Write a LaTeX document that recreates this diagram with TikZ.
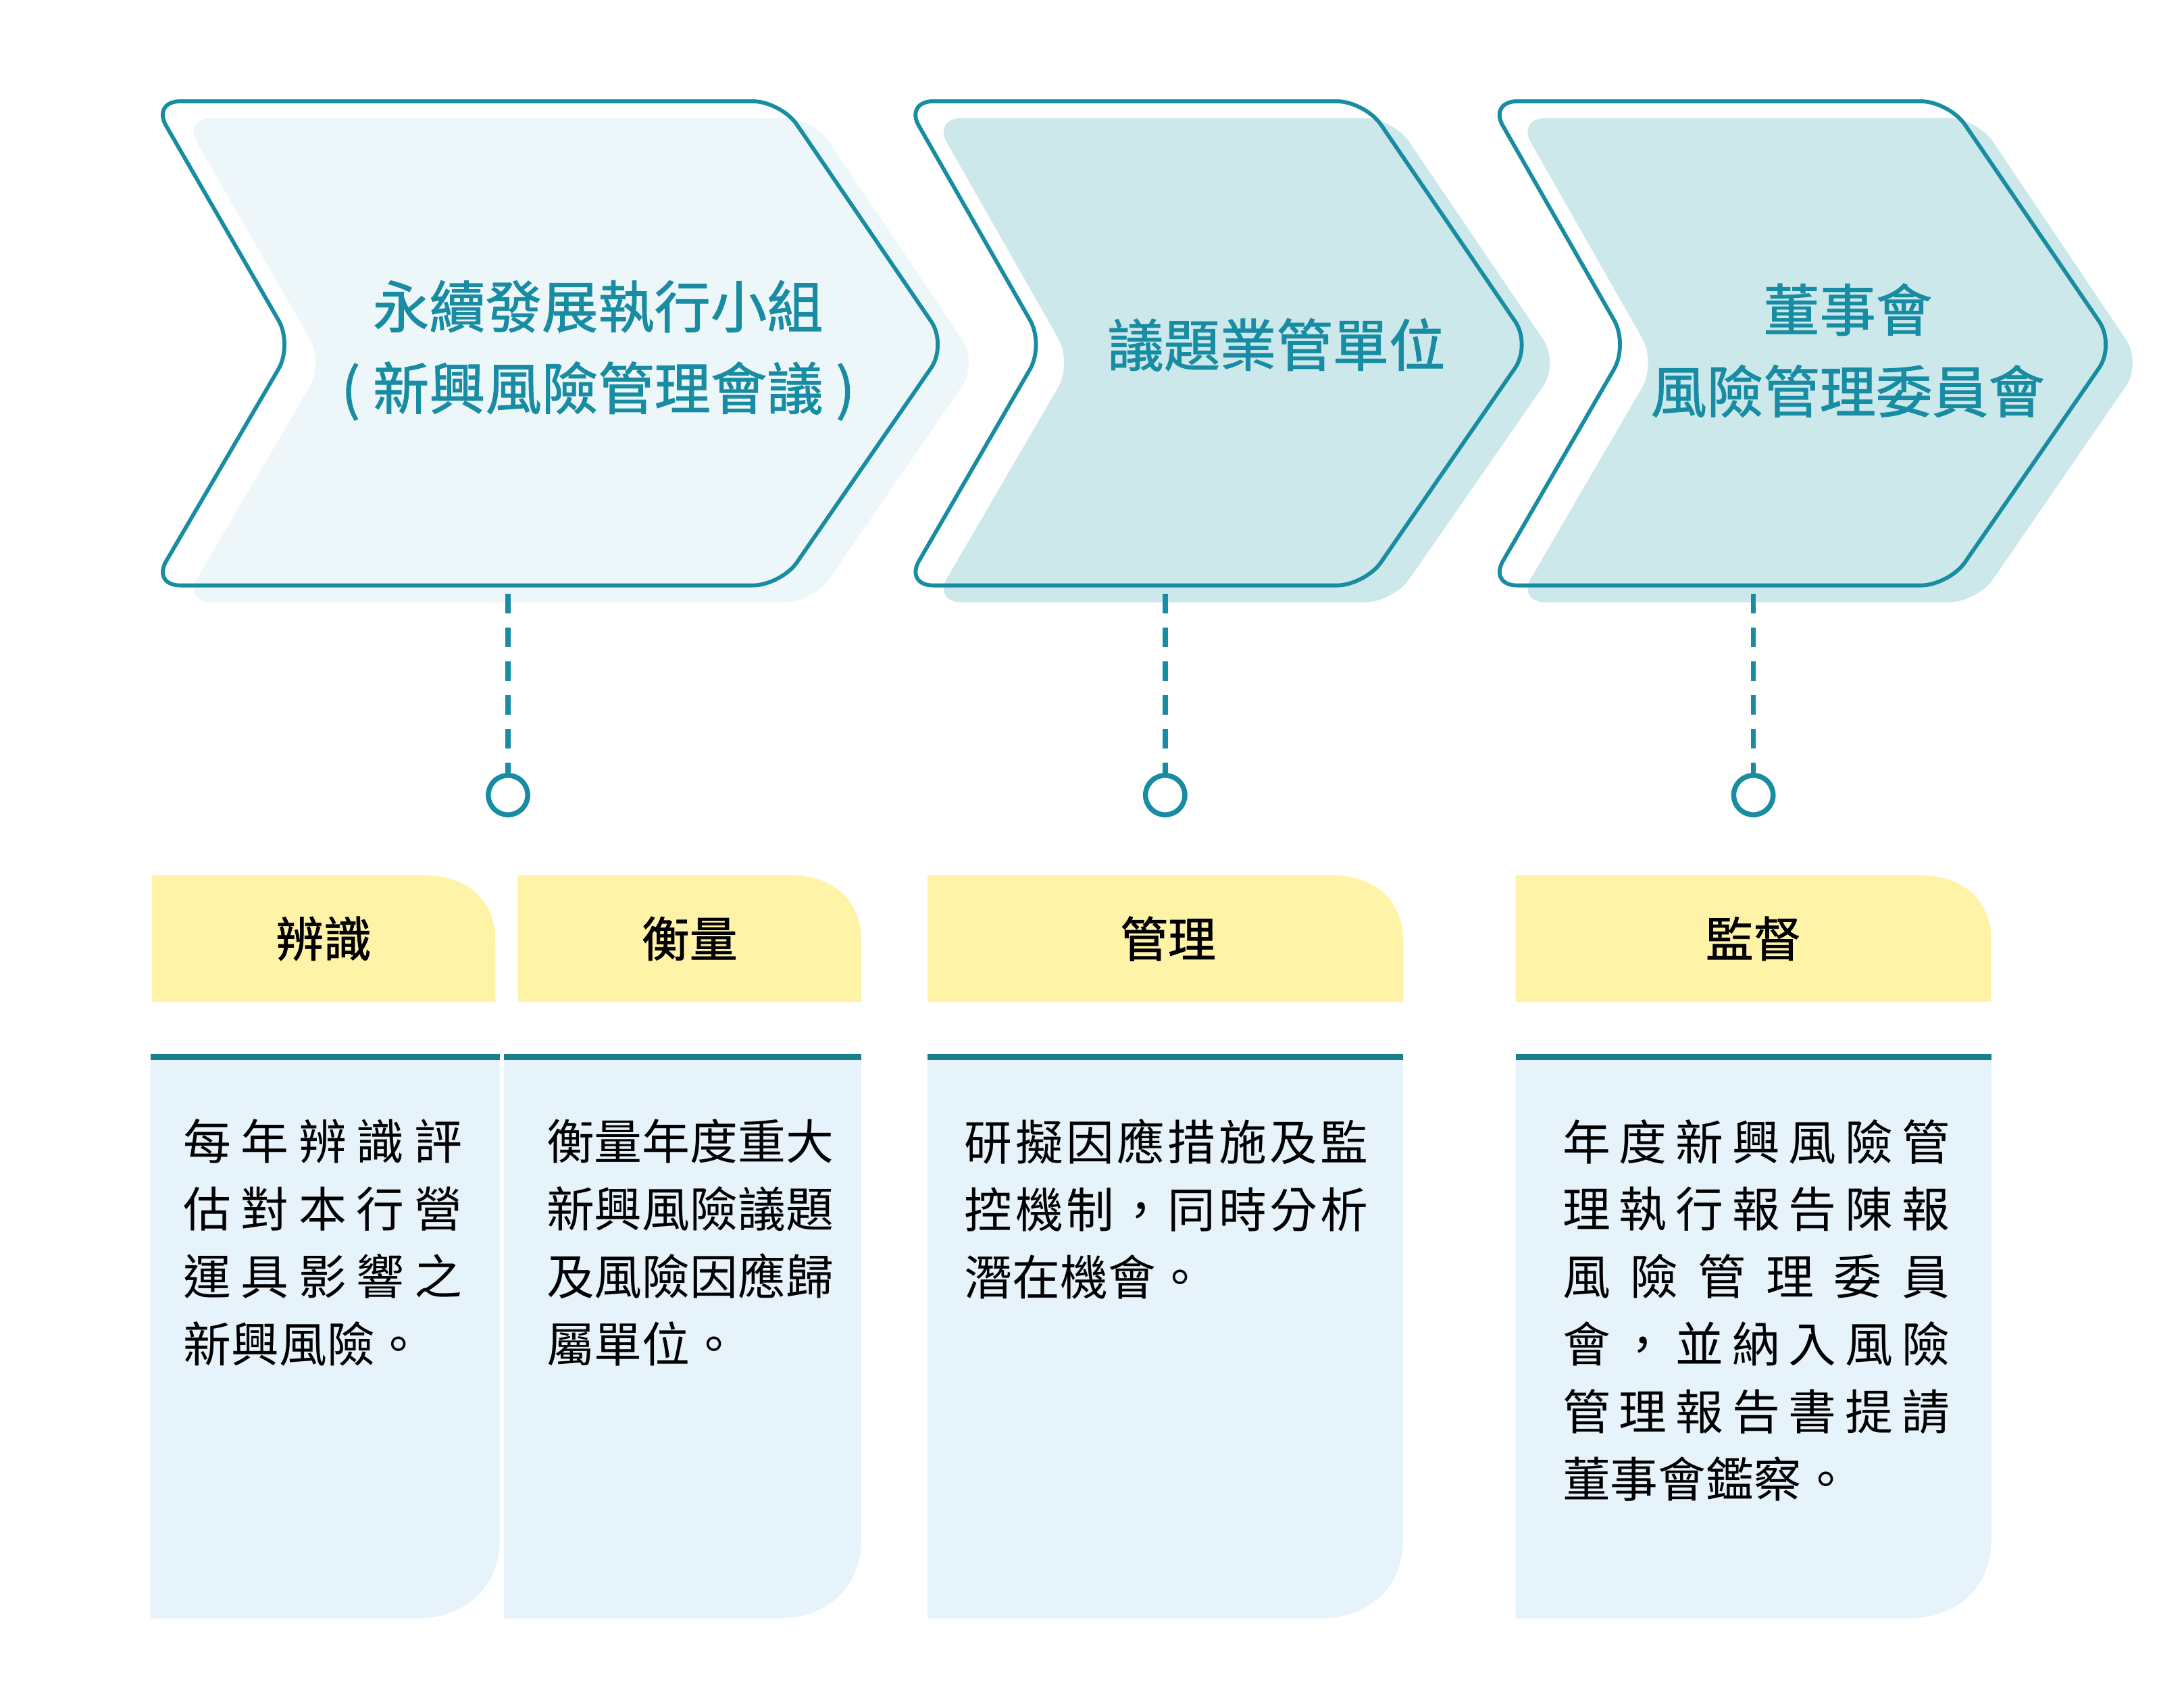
\documentclass[tikz,border=0pt]{standalone}
\usepackage{fontspec}
\usepackage{tikz}
\usetikzlibrary{positioning}
\setmainfont{Noto Sans CJK TC}
\newfontfamily\medfont[FakeBold=1.2]{Noto Sans CJK TC}
\definecolor{tealline}{HTML}{188CA2}
\definecolor{tealrule}{HTML}{17808C}
\definecolor{paleblue}{HTML}{EDF7FA}
\definecolor{midblue}{HTML}{CCE8EB}
\definecolor{bodyblue}{HTML}{E7F3FA}
\definecolor{headyellow}{HTML}{FFF3A8}
\makeatletter
\def\spreadline#1{\spr@#1\relax}
\def\spr@#1#2{#1\ifx\relax#2\else\hfill\expandafter\spr@\expandafter#2\fi}
\makeatother
\newcommand{\fullline}[2]{\hbox to #1{\spreadline{#2}}}
\tikzset{
    chevline/.style={draw=tealline, line width=1.4pt, rounded corners=10pt},
    chevfill/.style={rounded corners=10pt},
    titletext/.style={text=tealline, font=\fontsize{20}{29}\medfont, align=center, inner sep=0},
    dashline/.style={draw=tealline, line width=1.8pt, dash pattern=on 7pt off 5pt},
    ring/.style={circle, draw=tealline, line width=1.8pt, minimum size=14pt, inner sep=0, fill=white},
    headtext/.style={font=\fontsize{17}{20}\medfont, inner sep=0},
    bodytext/.style={font=\fontsize{17}{24}\selectfont, align=left, inner sep=0, anchor=north west},
}
\begin{document}
\begin{tikzpicture}[x=0.5pt, y=-0.5pt]
    \useasboundingbox (0,0) rectangle (1552,1210);
    % chevrons
    \fill[paleblue, chevfill] (130,84) -- (578,84) -- (695,258) -- (578,428) -- (130,428) -- (230,258) -- cycle;
    \draw[chevline] (108,72) -- (555,72) -- (673,245) -- (555,416) -- (108,416) -- (208,245) -- cycle;
    \fill[midblue, chevfill] (663,84) -- (990,84) -- (1108,258) -- (990,428) -- (663,428) -- (762,258) -- cycle;
    \draw[chevline] (643,72) -- (970,72) -- (1088,245) -- (970,416) -- (643,416) -- (742,245) -- cycle;
    \fill[midblue, chevfill] (1078,84) -- (1405,84) -- (1522,258) -- (1405,428) -- (1078,428) -- (1177,258) -- cycle;
    \draw[chevline] (1058,72) -- (1385,72) -- (1503,245) -- (1385,416) -- (1058,416) -- (1157,245) -- cycle;
    \node[titletext] (team) at (425,249) {永續發展執行小組\\( 新興風險管理會議 )};
    \node[titletext] (unit) at (907,245) {議題業管單位};
    \node[titletext] (board) at (1313,249) {董事會\\風險管理委員會};
    % connectors
    \coordinate (t1) at (361,422);
    \coordinate (t2) at (828,422);
    \coordinate (t3) at (1246,422);
    \node[ring] (o1) at (361,565) {};
    \node[ring] (o2) at (828,565) {};
    \node[ring] (o3) at (1246,565) {};
    \draw[dashline] (t1) -- (o1);
    \draw[dashline] (t2) -- (o2);
    \draw[dashline] (t3) -- (o3);
    % yellow headers
    \fill[headyellow] (108,712) -- (108,622) -- (302,622) .. controls (332,622) and (352,640) .. (352,668) -- (352,712) -- cycle;
    \fill[headyellow] (368,712) -- (368,622) -- (562,622) .. controls (592,622) and (612,640) .. (612,668) -- (612,712) -- cycle;
    \fill[headyellow] (659,712) -- (659,622) -- (947,622) .. controls (977,622) and (997,640) .. (997,668) -- (997,712) -- cycle;
    \fill[headyellow] (1077,712) -- (1077,622) -- (1365,622) .. controls (1395,622) and (1415,640) .. (1415,668) -- (1415,712) -- cycle;
    \node[headtext] (h1) at (230,667) {辨識};
    \node[headtext] (h2) at (490,667) {衡量};
    \node[headtext] (h3) at (830,667) {管理};
    \node[headtext] (h4) at (1246,667) {監督};
    % body boxes
    \foreach \l/\r in {107/355, 358/612, 659/997, 1077/1415}
    {
        \fill[bodyblue] (\l,752) -- (\r,752) -- (\r,1095) .. controls (\r,1128) and ({\r-25},1150) .. ({\r-58},1150) -- (\l,1150) -- cycle;
        \draw[tealrule, line width=2pt] (\l,751) -- (\r,751);
    }
    \node[bodytext] (b1) at (130,795) {\fullline{99pt}{每年辨識評}\\\fullline{99pt}{估對本行營}\\\fullline{99pt}{運具影響之}\\新興風險。};
    \node[bodytext] (b2) at (388,795) {\fullline{102pt}{衡量年度重大}\\\fullline{102pt}{新興風險議題}\\\fullline{102pt}{及風險因應歸}\\屬單位。};
    \node[bodytext] (b3) at (685,795) {\fullline{143.5pt}{研擬因應措施及監}\\\fullline{143.5pt}{控機制，同時分析}\\潛在機會。};
    \node[bodytext] (b4) at (1110,795) {\fullline{137.5pt}{年度新興風險管}\\\fullline{137.5pt}{理執行報告陳報}\\\fullline{137.5pt}{風險管理委員}\\\fullline{137.5pt}{會，並納入風險}\\\fullline{137.5pt}{管理報告書提請}\\董事會鑑察。};
\end{tikzpicture}
\end{document}
